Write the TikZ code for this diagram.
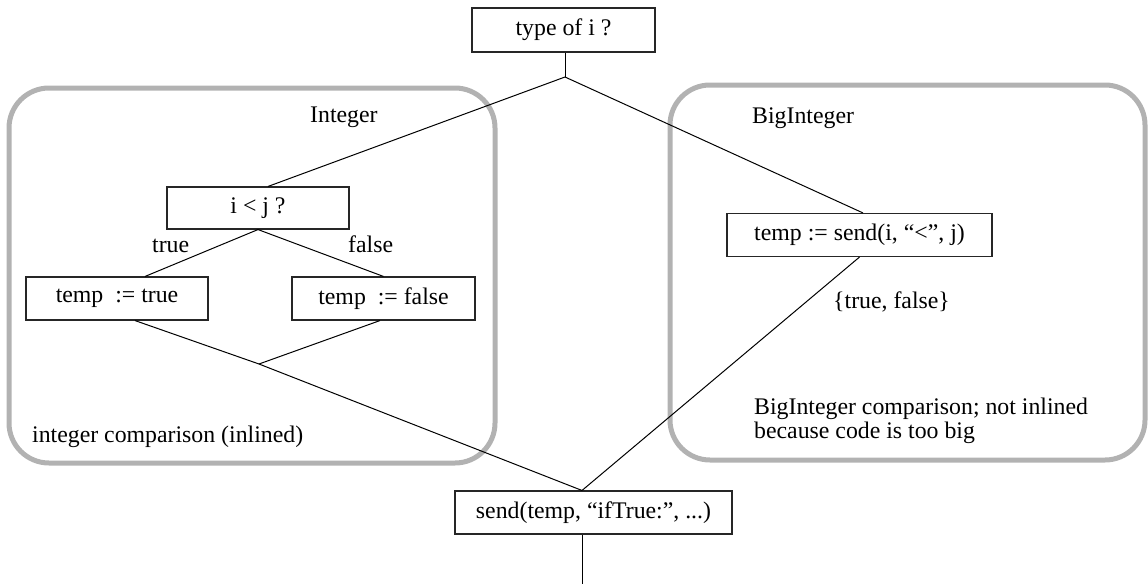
\documentclass[tikz,border=0pt]{standalone}
\usepackage{fontspec}
\setmainfont{Liberation Serif}
\usetikzlibrary{calc}
\begin{document}
\begin{tikzpicture}[x=1pt,y=-1pt,
  every node/.style={font=\fontsize{23.8}{24}\selectfont, inner sep=0pt},
  box/.style={draw=black!85, line width=1.1pt, minimum height=43pt, fill=white},
  grp/.style={draw=black!30, line width=5pt, rounded corners=40pt},
  link/.style={line width=1pt}]
\useasboundingbox (0,0) rectangle (1148,584);

% the two grey groups
\node[grp, minimum width=486pt, minimum height=375pt] (gint) at (252,275.5) {};
\node[grp, minimum width=475pt, minimum height=375pt] (gbig) at (907.5,272.5) {};

% statements
\node[box, minimum width=183pt, minimum height=44pt] (typ) at (563.5,30) {type of i ?};
\node[box, minimum width=182pt, minimum height=42pt] (ij) at (258,208) {i < j ?};
\node[box, minimum width=182pt] (tt) at (117,298.5) {temp\ \ := true};
\node[box, minimum width=183pt] (tf) at (383.5,298.5) {temp\ \ := false};
\node[box, minimum width=265pt] (ts) at (859.5,235) {temp := send(i, “<”, j)};
\node[box, minimum width=277pt] (snd) at (593.5,512.5) {send(temp, “ifTrue:”, ...)};

% branch and merge points
\coordinate (j0) at (565,77);
\coordinate (j1) at (259,364);
\path (snd.north) ++(-11.5,0) coordinate (m);
\coordinate (bot) at (582,584);

% connectors
\draw[link] (typ.south -| j0) -- (j0);
\draw[link] (j0) -- ($(ij.north)+(10,0)$);
\draw[link] (j0) -- ($(ts.north)+(3.5,0)$);
\draw[link] (ij.south) -- ($(tt.north)+(28,0)$);
\draw[link] (ij.south) -- (tf.north);
\draw[link] ($(tt.south)+(18,0)$) -- (j1);
\draw[link] ($(tf.south)+(-3.5,0)$) -- (j1);
\draw[link] (j1) -- (m);
\draw[link] (ts.south) -- (m);
\draw[link] (m |- snd.south) -- (bot);

% labels
\node[anchor=base west] (lint) at (310,122) {Integer};
\node[anchor=base west] (lbig) at (752,123) {BigInteger};
\node[anchor=base west] (ltrue) at (152,252) {true};
\node[anchor=base west] (lfalse) at (348,252) {false};
\node[anchor=base west] (lset) at (833,308) {\{true, false\}};
\node[anchor=north west, align=left] (nbig) at (754,398) {BigInteger comparison; not inlined\\because code is too big};
\node[anchor=base west] (nint) at (32,442) {integer comparison (inlined)};
\end{tikzpicture}
\end{document}
